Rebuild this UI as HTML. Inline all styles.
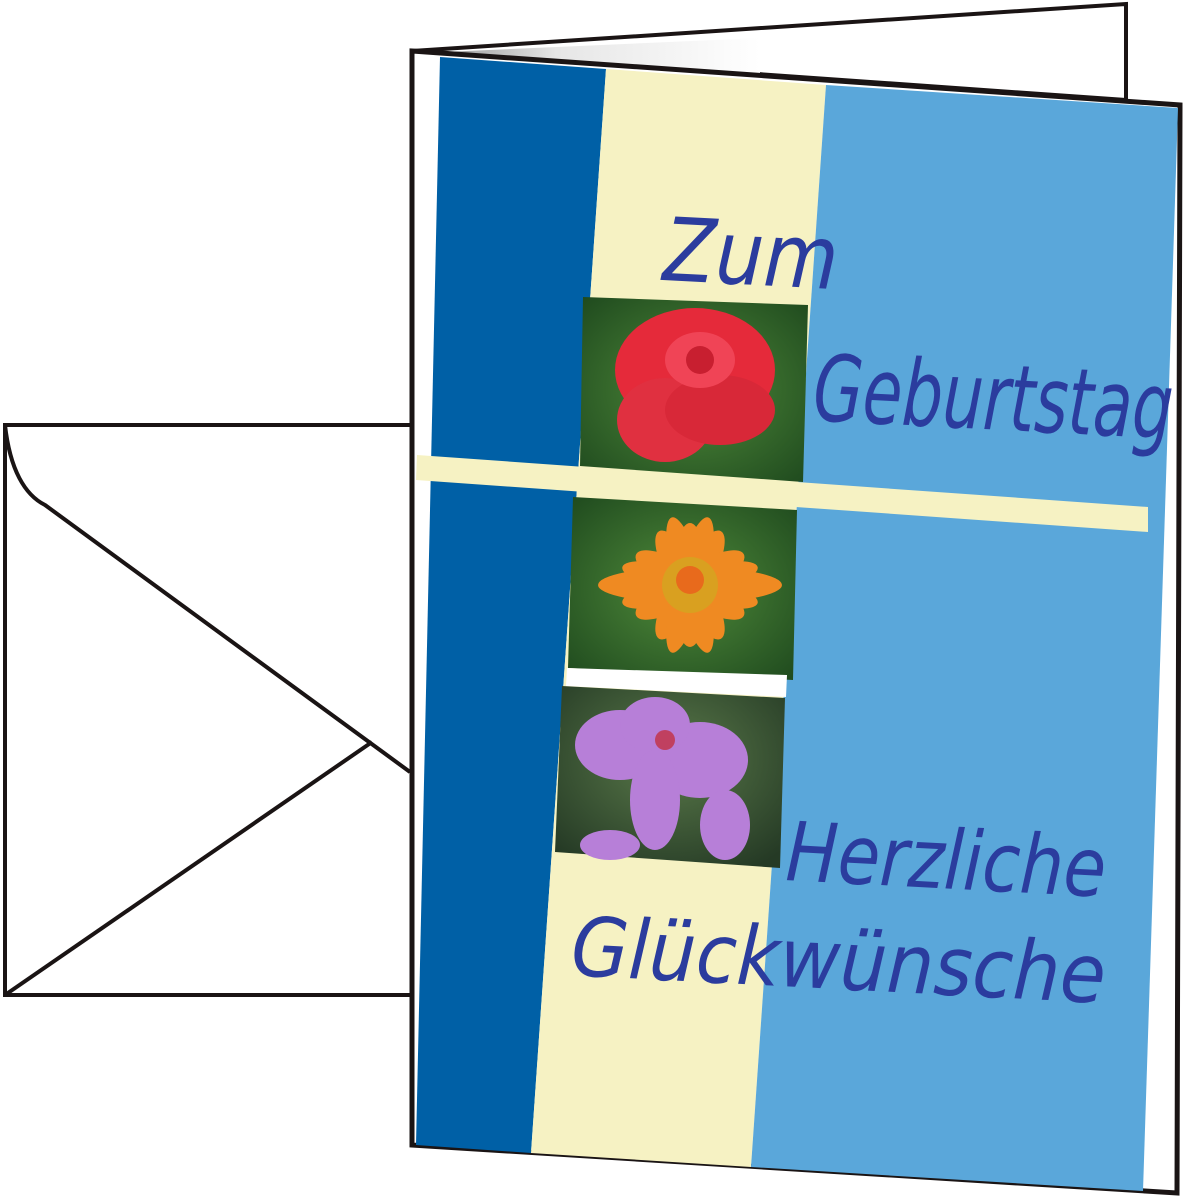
<!DOCTYPE html>
<html><head><meta charset="utf-8"><style>
html,body{margin:0;padding:0;background:#fff;width:1183px;height:1200px;overflow:hidden}
svg{display:block}
text{font-family:"DejaVu Sans","Liberation Sans",sans-serif;font-weight:200;font-style:italic;fill:#2b3c9e}
</style></head><body>
<svg width="1183" height="1200" viewBox="0 0 1183 1200" xmlns="http://www.w3.org/2000/svg">
<defs>
<linearGradient id="fold" x1="0" x2="1" y1="0" y2="0">
<stop offset="0" stop-color="#8a8a8a"/><stop offset="0.4" stop-color="#e6e6e6"/><stop offset="1" stop-color="#fff"/>
</linearGradient>
<radialGradient id="leaf" cx="0.5" cy="0.5" r="0.7"><stop offset="0" stop-color="#4f8a3a"/><stop offset="1" stop-color="#1f4a1e"/></radialGradient>
<radialGradient id="dark" cx="0.5" cy="0.4" r="0.7"><stop offset="0" stop-color="#5a7a4a"/><stop offset="1" stop-color="#253a25"/></radialGradient>
</defs>
<rect x="5" y="425" width="420" height="570" fill="#fff" stroke="#1a1414" stroke-width="4"/>
<path d="M5 425 C10 470 25 495 45 505 L410 772" fill="none" stroke="#1a1414" stroke-width="4"/>
<path d="M5 995 L372 742" fill="none" stroke="#1a1414" stroke-width="4"/>
<polygon points="412,51 1126,4 1126,100 700,70" fill="#fff" stroke="#1a1414" stroke-width="4"/>
<polygon points="420,53 760,38 760,80 420,56" fill="url(#fold)"/>
<polygon points="412,51 1180,105 1177,1193 412,1145" fill="#fff" stroke="#1a1414" stroke-width="5"/>
<polygon points="440,57 606,69 531,1153 416,1145" fill="#0060a6"/>
<polygon points="606,69 826,85 751,1167 531,1153" fill="#f6f2c3"/>
<polygon points="826,85 1178,108 1143,1191 751,1167" fill="#5aa7da"/>
<polygon points="417,455 1148,507 1148,532 416,480" fill="#f6f2c3"/>
<g>
<polygon points="583,297 808,305 803,482 580,466" fill="url(#leaf)"/>
<ellipse cx="695" cy="370" rx="80" ry="62" fill="#e52a3a"/>
<ellipse cx="665" cy="420" rx="48" ry="42" fill="#e03040"/>
<ellipse cx="720" cy="410" rx="55" ry="35" fill="#d82838"/>
<ellipse cx="700" cy="360" rx="35" ry="28" fill="#f04456"/>
<circle cx="700" cy="360" r="14" fill="#c81f30"/>
</g>
<g>
<polygon points="573,497 797,510 793,680 568,668" fill="url(#leaf)"/>
<g fill="#ef8a22" transform="translate(690,585)">
<ellipse rx="18" ry="62"/>
<ellipse rx="18" ry="62" transform="rotate(30)"/>
<ellipse rx="18" ry="62" transform="rotate(60)"/>
<ellipse rx="18" ry="92" transform="rotate(90)"/>
<ellipse rx="18" ry="62" transform="rotate(120)"/>
<ellipse rx="18" ry="62" transform="rotate(150)"/>
<ellipse rx="16" ry="70" transform="rotate(15)"/>
<ellipse rx="16" ry="70" transform="rotate(75)"/>
<ellipse rx="16" ry="70" transform="rotate(105)"/>
<ellipse rx="16" ry="70" transform="rotate(165)"/>
</g>
<circle cx="690" cy="585" r="28" fill="#d9a020"/>
<circle cx="690" cy="580" r="14" fill="#e86a1c"/>
<polygon points="567,668 787,675 786,697 566,686" fill="#fff"/>
</g>
<g>
<polygon points="562,686 785,698 780,868 555,852" fill="url(#dark)"/>
<g fill="#b77fd8">
<ellipse cx="620" cy="745" rx="45" ry="35"/>
<ellipse cx="700" cy="760" rx="48" ry="38"/>
<ellipse cx="655" cy="725" rx="35" ry="28"/>
<ellipse cx="655" cy="800" rx="25" ry="50"/>
<ellipse cx="725" cy="825" rx="25" ry="35"/>
<ellipse cx="610" cy="845" rx="30" ry="15"/>
</g>
<circle cx="665" cy="740" r="10" fill="#c04060"/>
</g>
<text x="662" y="280" font-size="88" textLength="175" lengthAdjust="spacingAndGlyphs" transform="rotate(3 662 280)">Zum</text>
<text x="812" y="420" font-size="92" textLength="360" lengthAdjust="spacingAndGlyphs" transform="rotate(3 812 420)">Geburtstag</text>
<text x="785" y="880" font-size="82" textLength="320" lengthAdjust="spacingAndGlyphs" transform="rotate(3 785 880)">Herzliche</text>
<text x="570" y="975" font-size="82" textLength="535" lengthAdjust="spacingAndGlyphs" transform="rotate(3 570 975)">Glückwünsche</text>
</svg>
</body></html>
